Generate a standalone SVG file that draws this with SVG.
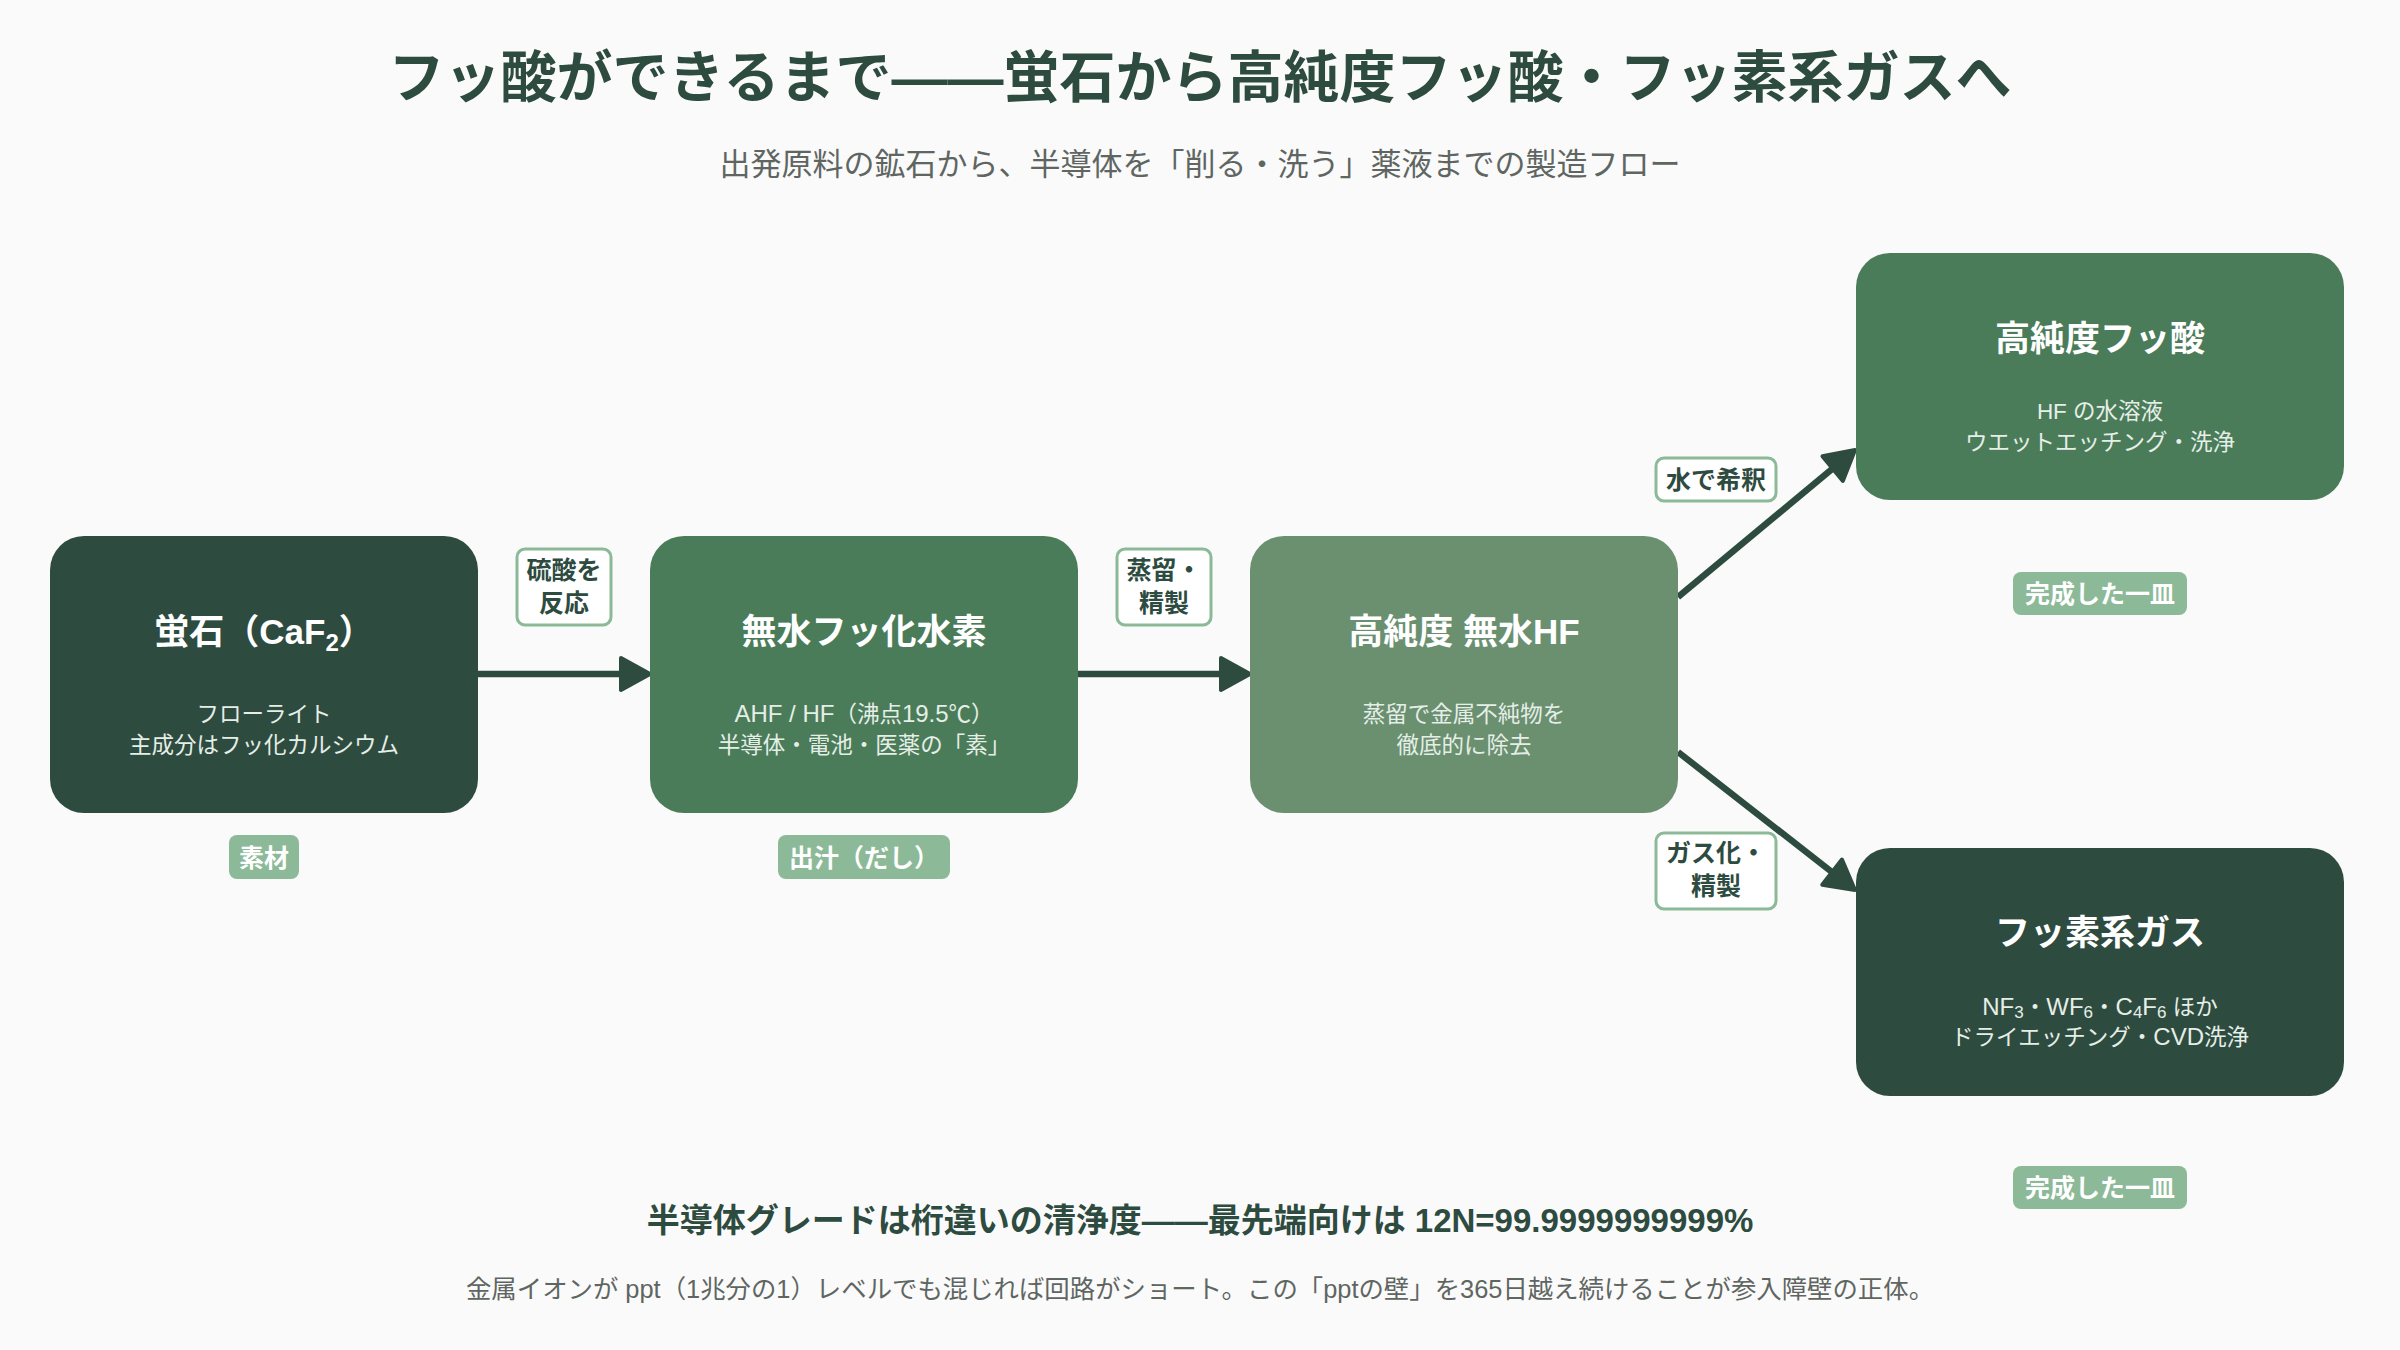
<svg xmlns="http://www.w3.org/2000/svg" width="2400" height="1350" viewBox="0 0 2400 1350">
  <defs>
    <style>
      text { font-family: "Liberation Sans", "Noto Sans CJK JP", sans-serif; }
      .title { font-size: 56px; font-weight: 700; fill: #2e4b3f; text-anchor: middle; }
      .subtitle { font-size: 31px; fill: #5f6662; text-anchor: middle; }
      .node-title { font-size: 35px; font-weight: 700; fill: #ffffff; text-anchor: middle; }
      .node-sub { font-size: 22.5px; fill: #e6eee8; text-anchor: middle; }
      .lat { font-size: 24px; }
      .sub { font-size: 17px; }
      .pill { fill: #8cba98; }
      .pill-text { font-size: 25px; font-weight: 700; fill: #ffffff; text-anchor: middle; }
      .lbl { fill: #ffffff; stroke: #8cba98; stroke-width: 3; }
      .lbl-text { font-size: 25px; font-weight: 700; fill: #2e4b3f; text-anchor: middle; }
      .edge { stroke: #2e4b3f; stroke-width: 6.5; fill: none; marker-end: url(#arrow); }
      .foot-bold { font-size: 33px; font-weight: 700; fill: #2e4b3f; text-anchor: middle; }
      .foot { font-size: 25.4px; fill: #5f6662; text-anchor: middle; }
    </style>
    <marker id="arrow" markerUnits="userSpaceOnUse" viewBox="0 0 36 38" markerWidth="36" markerHeight="38" refX="12" refY="19" orient="auto">
      <path d="M3,3 L32,19 L3,35 Z" fill="#2e4b3f" stroke="#2e4b3f" stroke-width="4" stroke-linejoin="round"/>
    </marker>
  </defs>

  <rect x="0" y="0" width="2400" height="1350" fill="#fafafa"/>

  <g id="header">
    <text class="title" x="1200" y="97">フッ酸ができるまで——蛍石から高純度フッ酸・フッ素系ガスへ</text>
    <text class="subtitle" x="1200" y="175">出発原料の鉱石から、半導体を「削る・洗う」薬液までの製造フロー</text>
  </g>

  <g id="connectors">
    <path class="edge" d="M478,674 L630,674"/>
    <path class="edge" d="M1078,674 L1230,674"/>
    <path class="edge" d="M1678,597 L1839.6,462.8"/>
    <path class="edge" d="M1678,752 L1839.2,877.7"/>
    <g id="edge-label-1">
      <rect class="lbl" x="517" y="549" width="94" height="76" rx="8"/>
      <text class="lbl-text" x="564" y="578.5">硫酸を</text>
      <text class="lbl-text" x="564" y="611.5">反応</text>
    </g>
    <g id="edge-label-2">
      <rect class="lbl" x="1117" y="549" width="94" height="76" rx="8"/>
      <text class="lbl-text" x="1164" y="578.5">蒸留・</text>
      <text class="lbl-text" x="1164" y="611.5">精製</text>
    </g>
    <g id="edge-label-3">
      <rect class="lbl" x="1656" y="458" width="120" height="43" rx="8"/>
      <text class="lbl-text" x="1716" y="488.5">水で希釈</text>
    </g>
    <g id="edge-label-4">
      <rect class="lbl" x="1656" y="833" width="120" height="76" rx="8"/>
      <text class="lbl-text" x="1716" y="861.5">ガス化・</text>
      <text class="lbl-text" x="1716" y="894.5">精製</text>
    </g>
  </g>

  <g id="node-fluorite">
    <rect x="50" y="536" width="428" height="277" rx="34" fill="#2e4b3f"/>
    <text class="node-title" x="264" y="644">蛍石（CaF<tspan font-size="24" baseline-shift="-7">2</tspan>）</text>
    <text class="node-sub" x="264" y="722">フローライト</text>
    <text class="node-sub" x="264" y="753">主成分はフッ化カルシウム</text>
    <rect class="pill" x="229" y="835" width="70" height="44" rx="8"/>
    <text class="pill-text" x="264" y="866.5">素材</text>
  </g>

  <g id="node-ahf">
    <rect x="650" y="536" width="428" height="277" rx="34" fill="#4a7c59"/>
    <text class="node-title" x="864" y="644">無水フッ化水素</text>
    <text class="node-sub" x="864" y="722"><tspan class="lat">AHF / HF</tspan>（沸点<tspan class="lat">19.5</tspan>℃）</text>
    <text class="node-sub" x="864" y="753">半導体・電池・医薬の「素」</text>
    <rect class="pill" x="778" y="835" width="172" height="44" rx="8"/>
    <text class="pill-text" x="864" y="866.5">出汁（だし）</text>
  </g>

  <g id="node-hp-ahf">
    <rect x="1250" y="536" width="428" height="277" rx="34" fill="#6a9070"/>
    <text class="node-title" x="1464" y="644">高純度 無水HF</text>
    <text class="node-sub" x="1464" y="722">蒸留で金属不純物を</text>
    <text class="node-sub" x="1464" y="753">徹底的に除去</text>
  </g>

  <g id="node-hf-acid">
    <rect x="1856" y="253" width="488" height="247" rx="34" fill="#4a7c59"/>
    <text class="node-title" x="2100" y="351">高純度フッ酸</text>
    <text class="node-sub" x="2100" y="419">HF の水溶液</text>
    <text class="node-sub" x="2100" y="450">ウエットエッチング・洗浄</text>
    <rect class="pill" x="2013" y="572" width="174" height="43" rx="8"/>
    <text class="pill-text" x="2100" y="602.5">完成した一皿</text>
  </g>

  <g id="node-f-gas">
    <rect x="1856" y="848" width="488" height="248" rx="34" fill="#2e4b3f"/>
    <text class="node-title" x="2100" y="945">フッ素系ガス</text>
    <text class="node-sub" x="2100" y="1015"><tspan class="lat">NF</tspan><tspan class="sub" baseline-shift="-3">3</tspan>・<tspan class="lat">WF</tspan><tspan class="sub" baseline-shift="-3">6</tspan>・<tspan class="lat">C</tspan><tspan class="sub" baseline-shift="-3">4</tspan><tspan class="lat">F</tspan><tspan class="sub" baseline-shift="-3">6</tspan> ほか</text>
    <text class="node-sub" x="2100" y="1045">ドライエッチング・<tspan class="lat">CVD</tspan>洗浄</text>
    <rect class="pill" x="2013" y="1166" width="174" height="43" rx="8"/>
    <text class="pill-text" x="2100" y="1196.5">完成した一皿</text>
  </g>

  <g id="footer">
    <text class="foot-bold" x="1200" y="1232">半導体グレードは桁違いの清浄度——最先端向けは 12N=99.9999999999%</text>
    <text class="foot" x="1200" y="1298">金属イオンが ppt（1兆分の1）レベルでも混じれば回路がショート。この「pptの壁」を365日越え続けることが参入障壁の正体。</text>
  </g>
</svg>
